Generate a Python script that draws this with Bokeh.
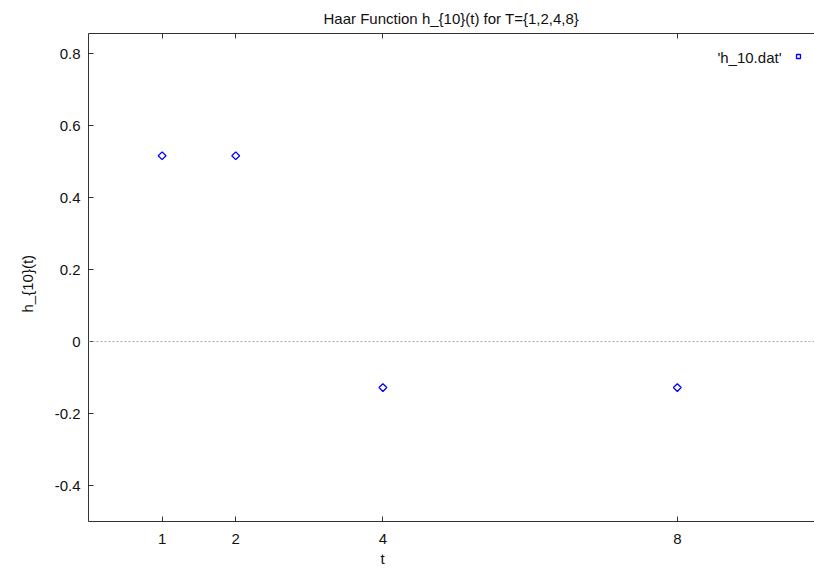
import math
from bokeh.plotting import figure
from bokeh.models import (LinearAxis, FixedTicker, Span, Label, Legend, Title,
                          LegendItem, Range1d, ColumnDataSource)
from bokeh.embed import file_html
from bokeh.resources import INLINE

# ---- data ----
t_values = [1, 2, 4, 8]
h_values = [0.516, 0.516, -0.128, -0.128]
x_ticks = [1, 2, 4, 8]
y_ticks = [-0.4, -0.2, 0, 0.2, 0.4, 0.6, 0.8]
y_tick_labels = {-0.4: "-0.4", -0.2: "-0.2", 0: "0", 0.2: "0.2", 0.4: "0.4", 0.6: "0.6", 0.8: "0.8"}
title_text = "Haar Function h_{10}(t) for T={1,2,4,8}"
x_label = "t"
y_label = "h_{10}(t)"
series_name = "'h_10.dat'"

FONT = "Liberation Sans"
FS = "15px"
AX = "#333333"
TXT = "#111111"

p = figure(width=814, height=569, output_backend="svg", toolbar_location=None,
           x_range=Range1d(0, 9.864), y_range=Range1d(-0.5, 0.8556),
           x_axis_location=None, y_axis_location=None,
           min_border_left=87, min_border_right=0, min_border_top=33, min_border_bottom=48)
p.outline_line_color = None
p.xgrid.visible = False
p.ygrid.visible = False
p.background_fill_color = "white"
p.border_fill_color = "white"

def style_axis(ax):
    ax.axis_line_color = AX
    ax.major_tick_line_color = AX
    ax.major_tick_in = 5
    ax.major_tick_out = 0
    ax.minor_tick_line_color = None
    ax.major_label_text_font = FONT
    ax.major_label_text_font_size = FS
    ax.major_label_text_color = TXT

left = LinearAxis(ticker=FixedTicker(ticks=y_ticks))
left.major_label_overrides = y_tick_labels
style_axis(left)
left.major_label_standoff = 8
p.add_layout(left, "left")

below = LinearAxis(ticker=FixedTicker(ticks=x_ticks))
style_axis(below)
below.major_label_standoff = 12
p.add_layout(below, "below")

# top border: ticks only (minor ticks carry no labels)
above = LinearAxis(ticker=FixedTicker(ticks=[], minor_ticks=x_ticks))
above.axis_line_color = AX
above.major_tick_line_color = None
above.minor_tick_line_color = AX
above.minor_tick_in = 5
above.minor_tick_out = 0
above.major_label_standoff = 0
p.add_layout(above, "above")

def ttl(text, **kw):
    return Title(text=text, text_font=FONT, text_font_size=FS, text_color=TXT,
                 text_font_style="normal", align="left", **kw)

p.title = ttl(title_text, offset=235, standoff=13)
p.add_layout(ttl(x_label, offset=292, standoff=2), "below")
p.add_layout(ttl(y_label, offset=209, standoff=32), "left")

p.add_layout(Label(x=693, y=464, x_units="screen", y_units="screen", text=series_name,
                   text_font=FONT, text_font_size=FS, text_color=TXT,
                   text_baseline="middle", text_align="right"))

p.add_layout(Span(location=0, dimension="width", line_color="#a8a8a8",
                  line_dash="2 2", line_width=1))

src = ColumnDataSource(dict(t=t_values, h=h_values))
r = p.scatter("t", "h", source=src, marker="square", angle=math.pi / 4, size=5.5,
              fill_color=None, line_color="blue", line_width=1.3)

legend = Legend(items=[LegendItem(label=" ", renderers=[r])], location=(705, 460),
                padding=0, margin=0, glyph_width=10, glyph_height=10, label_width=0,
                label_standoff=0, border_line_color=None, background_fill_alpha=0,
                label_text_font_size="10px", label_height=10)
p.add_layout(legend, "center")

open("out.html", "w").write(file_html(p, INLINE))
